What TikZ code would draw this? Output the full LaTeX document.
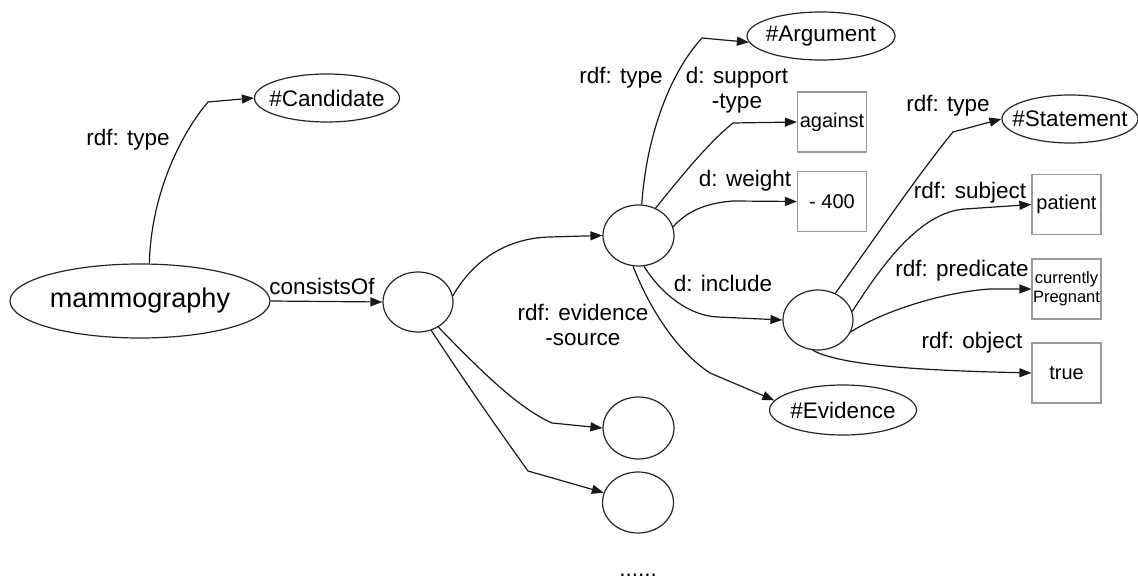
\documentclass[tikz,border=0pt]{standalone}
\usepackage{fontspec}
\setmainfont{Liberation Sans}
\usetikzlibrary{arrows.meta,shapes.geometric}

\tikzset{
  ell/.style={draw=black!85, line width=1.2pt, ellipse, inner sep=0pt},
  blob/.style={draw=black!85, line width=1.2pt, ellipse, inner sep=0pt,
               minimum width=70pt, minimum height=60pt},
  valbox/.style={draw=black!40, line width=1.2pt, rectangle, inner sep=0pt,
                 minimum width=69pt, minimum height=60pt,
                 font=\fontsize{20}{22}\selectfont},
  txt/.style={font=\fontsize{22.5}{25}\selectfont, inner sep=0pt, align=center},
  edge/.style={draw=black!90, line width=1.2pt,
               -{Triangle[length=12pt,width=9pt]}},
  elabel/.style={txt, fill=none}
}

\begin{document}
\begin{tikzpicture}[x=1pt,y=-1pt]
\useasboundingbox (0,0) rectangle (1138,580);

% ---- resources and classes ----
\node[ell, minimum width=260pt, minimum height=74pt,
      font=\fontsize{27}{30}\selectfont] (mam) at (140,301) {mammography};
\node[ell, minimum width=145pt, minimum height=48pt,
      label={[txt]center:\#Candidate}] (cand) at (327,98) {};
\node[ell, minimum width=148pt, minimum height=48pt,
      label={[txt]center:\#Argument}] (argt) at (821,36) {};
\node[ell, minimum width=136pt, minimum height=48pt,
      label={[txt]center:\#Statement}] (stmt) at (1070,119) {};
\node[ell, minimum width=147pt, minimum height=50pt,
      label={[txt]center:\#Evidence}] (evid) at (843,410) {};

% ---- blank nodes ----
\node[blob] (c0) at (418,302) {};
\node[blob, minimum width=71pt, minimum height=61pt] (argc) at (638.5,235.5) {};
\node[blob] (stc) at (818,320) {};
\node[blob, minimum width=71pt, minimum height=62pt] (low1) at (638.5,428) {};
\node[blob, minimum width=71pt, minimum height=61pt] (low2) at (638,502.5) {};

% ---- literal values ----
\node[valbox] (against) at (832,122) {against};
\node[valbox] (w400) at (832,201.5) {- 400};
\node[valbox] (patient) at (1066.5,204.5) {patient};
\node[valbox, font=\fontsize{16.5}{19}\selectfont, align=center] (preg) at (1066.5,289) {currently\\Pregnant};
\node[valbox] (truev) at (1066.5,373) {true};

% ---- bend points ----
\coordinate (b1) at (208,102);
\coordinate (b2) at (550,237);
\coordinate (b3) at (702,38);
\coordinate (b4) at (733,123);
\coordinate (b5) at (733,201);
\coordinate (b6) at (718,317);
\coordinate (b7) at (710,373);
\coordinate (b8) at (552,423);
\coordinate (b9) at (528,471);
\coordinate (b10) at (953,132);
\coordinate (b11) at (965,209);
\coordinate (b12) at (990,289);

% ---- edges ----
\draw[edge] (mam.76) .. controls (151,195) and (180,135) .. (b1) -- (cand.west);
\draw[edge] (mam.east) -- (c0.west);
\draw[edge] (c0.10) .. controls (472,262) and (505,238) .. (b2) -- (argc.west);
\draw[edge] (argc.84) .. controls (646,140) and (668,75) .. (b3) -- (argt.185);
\draw[edge] (argc.58) .. controls (680,178) and (708,143) .. (b4) -- (against.west);
\draw[edge] (argc.14) .. controls (686,212) and (705,203) .. (b5) -- (w400.west);
\draw[edge] (argc.-80) .. controls (662,295) and (690,316) .. (b6) -- (stc.west);
\draw[edge] (argc.-100) .. controls (648,305) and (675,350) .. (b7) -- (evid.172);
\draw[edge] (c0.-51) .. controls (480,370) and (518,408) .. (b8) -- (low1.west);
\draw[edge] (c0.-65) .. controls (465,382) and (500,432) .. (b9) -- (low2.164);
\draw[edge] (stc.57) .. controls (875,238) and (920,172) .. (b10) -- (stmt.west);
\draw[edge] (stc.14) .. controls (882,265) and (920,212) .. (b11) -- (patient.west);
\draw[edge] (stc.-20) .. controls (885,310) and (945,292) .. (b12) -- (preg.west);
\draw[edge] (stc.-100) .. controls (845,368) and (950,371) .. (truev.west);

% ---- edge labels ----
\node[elabel] (l1) at (128,140) {rdf: type};
\node[elabel] (l2) at (322,286) {consistsOf};
\node[elabel] (l3) at (621,78) {rdf: type};
\node[elabel] (l4) at (737,90) {d: support\\-type};
\node[elabel] (l5) at (745,181) {d: weight};
\node[elabel] (l6) at (723,283) {d: include};
\node[elabel] (l7) at (583,325) {rdf: evidence\\-source};
\node[elabel] (l8) at (948,106) {rdf: type};
\node[elabel] (l9) at (970,193) {rdf: subject};
\node[elabel] (l10) at (962,271) {rdf: predicate};
\node[elabel] (l11) at (972,343) {rdf: object};
\node[txt, anchor=base] (more) at (638,576) {......};
\end{tikzpicture}
\end{document}
